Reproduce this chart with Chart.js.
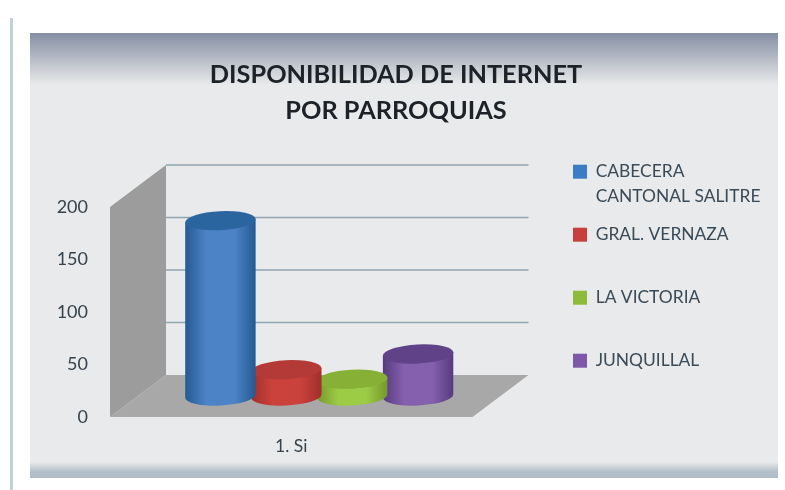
<!DOCTYPE html>
<html>
<head>
<meta charset="utf-8">
<title>Disponibilidad de internet</title>
<script src="https://cdn.jsdelivr.net/npm/chart.js@4"></script>
<style>
html, body { margin: 0; padding: 0; background: #fff; overflow: hidden; }
canvas { display: block; filter: blur(0.6px); }
</style>
</head>
<body>
<canvas id="grafico" width="785" height="490"></canvas>
<script>
const categorias = ['1. Si'];
const series = ['CABECERA CANTONAL SALITRE', 'GRAL. VERNAZA', 'LA VICTORIA', 'JUNQUILLAL'];
const valores = [[167], [25], [16], [40]];
const ticksY = [0, 50, 100, 150, 200];

const leyenda = [['CABECERA', 'CANTONAL SALITRE'], ['GRAL. VERNAZA', ''], ['LA VICTORIA', ''], ['JUNQUILLAL', '']];
const colores = ['#3b7cc4', '#c8403c', '#8fbb3c', '#7d58a8'];
const medios = ['#4c83c6', '#cb423c', '#9ccb45', '#8560ae'];
const bordes = ['#245a92', '#a02e2a', '#76982c', '#573b7e'];
const tapas = ['#2a659f', '#b33a36', '#86b036', '#5f4287'];

// profundidad del grafico 3D
const fondoX = 56, fondoY = -42;
const radioY = 9.5;

class CilindroController extends Chart.BarController {
    draw() {
        const ctx = this.chart.ctx;
        const i = this.index;
        this.getMeta().data.forEach(el => {
            const cx = el.x + fondoX / 2;
            const arriba = el.y + fondoY / 2;
            const abajo = el.base + fondoY / 2;
            const rx = el.width / 2;
            const rot = -0.05;
            const ox = rx * Math.cos(rot), oy = rx * Math.sin(rot);

            const g = ctx.createLinearGradient(cx - rx, 0, cx + rx, 0);
            g.addColorStop(0, bordes[i]);
            g.addColorStop(0.3, medios[i]);
            g.addColorStop(0.7, medios[i]);
            g.addColorStop(1, bordes[i]);

            ctx.save();
            ctx.fillStyle = g;
            ctx.beginPath();
            ctx.moveTo(cx - ox, arriba - oy);
            ctx.lineTo(cx - ox, abajo - oy);
            ctx.ellipse(cx, abajo, rx, radioY, rot, Math.PI, 0, true);
            ctx.lineTo(cx + ox, arriba + oy);
            ctx.closePath();
            ctx.fill();

            ctx.fillStyle = tapas[i];
            ctx.beginPath();
            ctx.ellipse(cx, arriba, rx, radioY, rot, 0, Math.PI * 2);
            ctx.fill();
            ctx.restore();
        });
    }
}
CilindroController.id = 'cilindro';
CilindroController.defaults = Chart.BarController.defaults;
CilindroController.overrides = Chart.BarController.overrides;
Chart.register(CilindroController);

const marco = {
    id: 'marco',
    beforeDraw(chart) {
        const ctx = chart.ctx;
        ctx.save();
        ctx.fillStyle = '#fff';
        ctx.fillRect(0, 0, 785, 490);
        // linea izquierda de la tarjeta
        ctx.fillStyle = '#c3d0d8';
        ctx.fillRect(10, 18, 3, 472);
        // panel
        ctx.fillStyle = '#e9eaeb';
        ctx.fillRect(30, 33, 748, 445);
        let g = ctx.createLinearGradient(0, 33, 0, 85);
        g.addColorStop(0, '#858ea2');
        g.addColorStop(1, '#e9eaeb');
        ctx.fillStyle = g;
        ctx.fillRect(30, 33, 748, 52);
        g = ctx.createLinearGradient(0, 462, 0, 478);
        g.addColorStop(0, '#e9eaeb');
        g.addColorStop(0.6, '#b3c0ca');
        g.addColorStop(1, '#aebbc5');
        ctx.fillStyle = g;
        ctx.fillRect(30, 462, 748, 16);
        ctx.restore();
    },
    afterLayout(chart) {
        const t = chart.titleBlock;
        t.left = 0; t.right = 792; t.width = 792;
        const l = chart.legend;
        l.left = 560; l.right = 785; l.width = 225;
        l.top = 150; l.bottom = l.top + l.height;
    },
    beforeDatasetsDraw(chart) {
        const ctx = chart.ctx;
        const { left, right } = chart.chartArea;
        const y = chart.scales.y;
        const y0 = y.getPixelForValue(0), yMax = y.getPixelForValue(200);
        ctx.save();
        // pared lateral
        ctx.fillStyle = '#9c9c9c';
        ctx.beginPath();
        ctx.moveTo(left, yMax);
        ctx.lineTo(left + fondoX, yMax + fondoY);
        ctx.lineTo(left + fondoX, y0 + fondoY);
        ctx.lineTo(left, y0);
        ctx.closePath();
        ctx.fill();
        // piso
        ctx.fillStyle = '#a8a8a8';
        ctx.beginPath();
        ctx.moveTo(left, y0);
        ctx.lineTo(left + fondoX, y0 + fondoY);
        ctx.lineTo(right + fondoX, y0 + fondoY);
        ctx.lineTo(right, y0);
        ctx.closePath();
        ctx.fill();
        // lineas de la pared del fondo
        ctx.strokeStyle = '#8fa5b0';
        ctx.lineWidth = 1.5;
        ticksY.slice(1).forEach(v => {
            const py = y.getPixelForValue(v) + fondoY;
            ctx.beginPath();
            ctx.moveTo(left + fondoX, py);
            ctx.lineTo(right + fondoX, py);
            ctx.stroke();
        });
        ctx.restore();
    }
};

new Chart(document.getElementById('grafico'), {
    type: 'cilindro',
    data: {
        labels: categorias,
        datasets: series.map((s, i) => ({
            label: s,
            data: valores[i],
            backgroundColor: colores[i],
            categoryPercentage: 0.727,
            barPercentage: 1.07,
            clip: false
        }))
    },
    plugins: [marco],
    options: {
        responsive: false,
        animation: false,
        layout: { padding: { left: 0, right: 155, top: 0, bottom: 0 } },
        plugins: {
            title: {
                display: true,
                text: ['DISPONIBILIDAD DE INTERNET', 'POR PARROQUIAS'],
                color: '#1c2228',
                font: { family: 'Lato', size: 25.3, weight: 'bold', lineHeight: '36px' },
                padding: { top: 57, bottom: 78 }
            },
            legend: {
                position: 'right',
                align: 'start',
                labels: {
                    boxWidth: 14,
                    boxHeight: 14,
                    font: { family: 'Lato', size: 17.4, lineHeight: '25px' },
                    padding: 13,
                    generateLabels: () => leyenda.map((t, i) => ({
                        text: t,
                        fillStyle: colores[i],
                        strokeStyle: colores[i],
                        fontColor: '#3a4a57',
                        lineWidth: 0,
                        datasetIndex: i,
                        hidden: false
                    }))
                }
            },
            tooltip: { enabled: false }
        },
        scales: {
            x: {
                type: 'category',
                grid: { display: false },
                border: { display: false },
                ticks: { color: '#36424c', font: { family: 'Lato', size: 17.5 }, padding: 11 },
                afterFit: s => { s.height = 73; }
            },
            y: {
                type: 'linear',
                min: 0,
                max: 200,
                grid: { display: false },
                border: { display: false },
                afterBuildTicks: s => { s.ticks = ticksY.map(v => ({ value: v })); },
                ticks: { color: '#36424c', font: { family: 'Lato', size: 18 }, padding: 14 },
                afterFit: s => { s.width = 110; }
            }
        }
    }
});
</script>
</body>
</html>
